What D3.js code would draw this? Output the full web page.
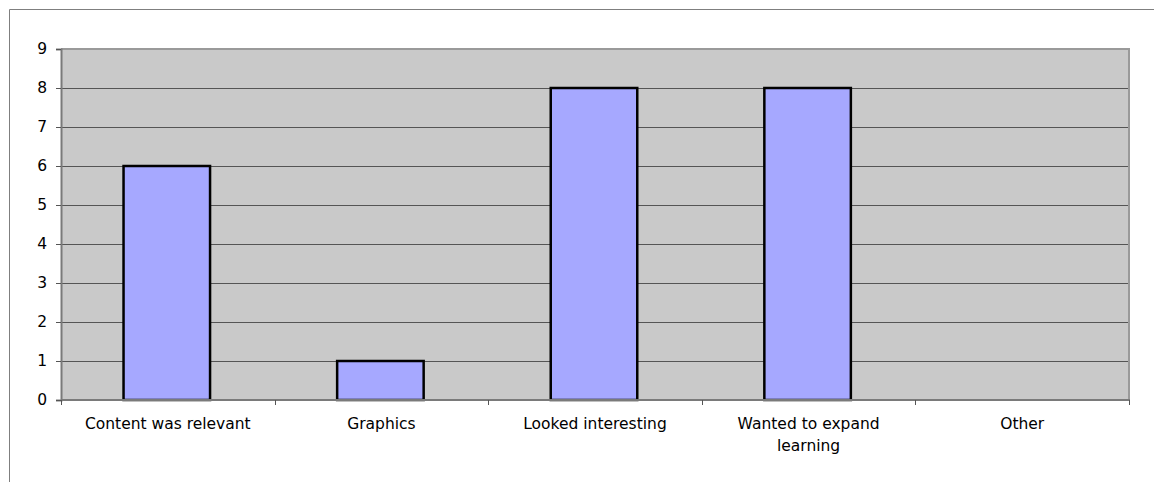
<!DOCTYPE html>
<html>
<head>
<meta charset="utf-8">
<script src="https://cdn.jsdelivr.net/npm/d3@7"></script>
<style>
  html, body { margin: 0; padding: 0; background: #ffffff; }
  svg { display: block; }
  text { font-family: "DejaVu Sans", Verdana, sans-serif; fill: #000; }
</style>
</head>
<body>
<svg id="chart" width="1154" height="482"></svg>
<script>
// Survey responses: reasons for choosing the module
const categories = ["Content was relevant", "Graphics", "Looked interesting", "Wanted to expand learning", "Other"];
const labelLines = [["Content was relevant"], ["Graphics"], ["Looked interesting"], ["Wanted to expand", "learning"], ["Other"]];
const counts = [6, 1, 8, 8, 0];
const yTicks = [0, 1, 2, 3, 4, 5, 6, 7, 8, 9];

const svg = d3.select("#chart");
const W = 1154, H = 482;
const plot = { left: 61, top: 49, right: 1129, bottom: 400 };
const fontSize = 15.5;

// outer chart frame (only top and left edges fall inside the view)
svg.append("path")
  .attr("d", `M9.5,${H} V9.5 H${W}`)
  .attr("fill", "none").attr("stroke", "#7f7f7f").attr("stroke-width", 1);

const x = d3.scaleBand().domain(categories).range([plot.left, plot.right]).paddingInner(0).paddingOuter(0);
const y = d3.scaleLinear().domain([0, 9]).range([plot.bottom, plot.top]);

// plot area background
svg.append("rect")
  .attr("x", plot.left).attr("y", plot.top)
  .attr("width", plot.right - plot.left).attr("height", plot.bottom - plot.top)
  .attr("fill", "#c9c9c9");

// horizontal gridlines
svg.append("g").selectAll("line")
  .data(yTicks.filter(d => d > 0 && d < 9))
  .join("line")
  .attr("x1", plot.left).attr("x2", plot.right)
  .attr("y1", d => Math.round(y(d)) + 0.5).attr("y2", d => Math.round(y(d)) + 0.5)
  .attr("stroke", "#555").attr("stroke-width", 1);

// plot border: top and right edges
svg.append("path")
  .attr("d", `M${plot.left},${plot.top} H${plot.right} V${plot.bottom}`)
  .attr("fill", "none").attr("stroke", "#9a9a9a").attr("stroke-width", 2);

// bars
const barW = x.bandwidth() * 0.405;
svg.append("g").selectAll("rect")
  .data(categories.map((c, i) => ({ c, v: counts[i] })).filter(d => d.v > 0))
  .join("rect")
  .attr("x", d => x(d.c) + x.bandwidth() / 2 - barW / 2 - 1)
  .attr("y", d => y(d.v))
  .attr("width", barW)
  .attr("height", d => y(0) - y(d.v))
  .attr("fill", "#a6a8ff")
  .attr("stroke", "#000").attr("stroke-width", 2.5);

// y axis
const yAxis = d3.axisLeft(y).tickValues(yTicks).tickSize(5).tickPadding(9).tickFormat(d3.format("d"));
const gy = svg.append("g").attr("transform", `translate(${plot.left},0)`).call(yAxis)
  .attr("font-size", fontSize).attr("font-family", "DejaVu Sans, Verdana, sans-serif");
gy.select(".domain").attr("stroke", "#7a7a7a").attr("stroke-width", 2);
gy.selectAll(".tick line").attr("stroke", "#555");
gy.selectAll(".tick text").attr("fill", "#000");

// x axis line with ticks at category boundaries
svg.append("line")
  .attr("x1", plot.left).attr("x2", plot.right + 1)
  .attr("y1", plot.bottom).attr("y2", plot.bottom)
  .attr("stroke", "#7a7a7a").attr("stroke-width", 2);
const bounds = categories.map(c => x(c)).concat([x(categories[categories.length - 1]) + x.bandwidth()]);
svg.append("g").selectAll("line")
  .data(bounds)
  .join("line")
  .attr("x1", d => Math.round(d) + 0.5).attr("x2", d => Math.round(d) + 0.5)
  .attr("y1", plot.bottom).attr("y2", plot.bottom + 5)
  .attr("stroke", "#555");

// category labels
const lbl = svg.append("g").selectAll("text")
  .data(categories.map((c, i) => ({ c, lines: labelLines[i] })))
  .join("text")
  .attr("text-anchor", "middle")
  .attr("font-size", fontSize)
  .attr("x", d => x(d.c) + x.bandwidth() / 2)
  .attr("y", 429);
lbl.selectAll("tspan")
  .data(d => d.lines.map((t, j) => ({ t, j, x: x(d.c) + x.bandwidth() / 2 })))
  .join("tspan")
  .attr("x", d => d.x)
  .attr("dy", d => d.j === 0 ? 0 : 22)
  .text(d => d.t);
</script>
</body>
</html>
